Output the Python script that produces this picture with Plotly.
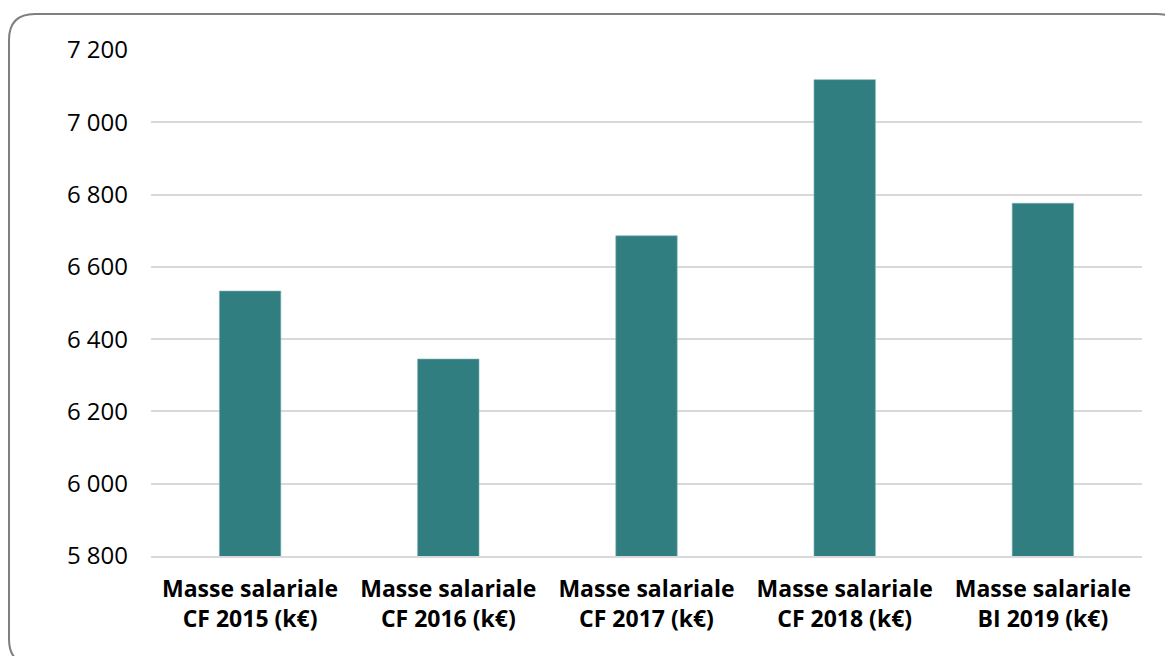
import plotly.graph_objects as go

categories = [
    "Masse salariale<br>CF 2015 (k€)",
    "Masse salariale<br>CF 2016 (k€)",
    "Masse salariale<br>CF 2017 (k€)",
    "Masse salariale<br>CF 2018 (k€)",
    "Masse salariale<br>BI 2019 (k€)",
]
values = [6533, 6345, 6686, 7118, 6776]
y_ticks = [5800, 6000, 6200, 6400, 6600, 6800, 7000, 7200]

W, H = 1165, 656
L, R, T, B = 151, 23, 50, 100
pw, ph = W - L - R, H - T - B

fig = go.Figure()
fig.add_trace(go.Bar(
    x=[f"<b>{c}</b>" for c in categories],
    y=values,
    marker=dict(color="#317e80", line=dict(color="#7fb3b5", width=0.6)),
    width=0.31,
))


def px_x(px):
    return (px - L) / pw


def px_y(py):
    return (H - B - py) / ph


# rounded border (pixel coords converted to paper)
x0, y0, x1, y1, r = 9, 14, 1183, 665, 26
path = (
    f"M {px_x(x0 + r)},{px_y(y0)} L {px_x(x1 - r)},{px_y(y0)} "
    f"Q {px_x(x1)},{px_y(y0)} {px_x(x1)},{px_y(y0 + r)} "
    f"L {px_x(x1)},{px_y(y1 - r)} Q {px_x(x1)},{px_y(y1)} {px_x(x1 - r)},{px_y(y1)} "
    f"L {px_x(x0 + r)},{px_y(y1)} Q {px_x(x0)},{px_y(y1)} {px_x(x0)},{px_y(y1 - r)} "
    f"L {px_x(x0)},{px_y(y0 + r)} Q {px_x(x0)},{px_y(y0)} {px_x(x0 + r)},{px_y(y0)} Z"
)
fig.add_shape(type="path", path=path, xref="paper", yref="paper",
              line=dict(color="#7f7f7f", width=2), layer="below")

fig.update_layout(
    width=W, height=H,
    margin=dict(l=L, r=R, t=T, b=B),
    paper_bgcolor="white", plot_bgcolor="white",
    separators=", ",
    font=dict(family="Open Sans", size=24, color="black"),
    showlegend=False,
    bargap=0.69,
)
fig.update_yaxes(
    range=[5800, 7200], tickvals=y_ticks, tickformat=",d",
    showgrid=True, gridcolor="#d9d9d9", gridwidth=1.5,
    zeroline=False, showline=False, ticks="",
    ticklabelstandoff=22,
    tickfont=dict(size=24, color="black"),
)
fig.update_xaxes(
    showline=True, linecolor="#d9d9d9", linewidth=1.5, ticks="",
    tickfont=dict(size=23, color="black"),
    ticklabelstandoff=12,
)

fig.write_html("out.html")
